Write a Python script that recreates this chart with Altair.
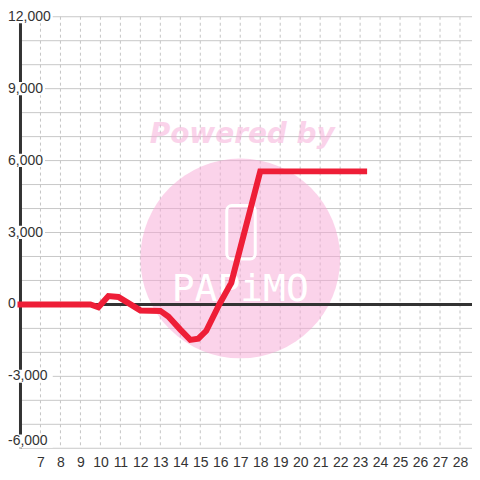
import altair as alt
import pandas as pd

# ---- data ----
x_vals = [6, 9.5, 9.9, 10.4, 10.9, 12.0, 13.0, 13.4, 14.0, 14.5, 14.9, 15.3, 15.95, 16.55, 18.0, 23.2]
y_vals = [0, 0, -120, 350, 310, -250, -270, -500, -1050, -1480, -1430, -1100, 0, 900, 5550, 5550]

y_label_values = [12000, 9000, 6000, 3000, 0, -3000, -6000]
y_label_texts = ["12,000", "9,000", "6,000", "3,000", "0", "-3,000", "-6,000"]
y_grid_values = list(range(-6000, 12001, 1000))
x_tick_values = list(range(7, 29))

RED = "#ee1e37"
DARK = "#333333"
PINK = "#f7a8d6"
FONT = "Liberation Sans"

line_df = pd.DataFrame({"x": x_vals, "y": y_vals})
ylab_df = pd.DataFrame({"v": y_label_values, "txt": y_label_texts})
ygrid_df = pd.DataFrame({"g": y_grid_values})
xgrid_df = pd.DataFrame({"t": x_tick_values})
zero_df = pd.DataFrame({"v": [0]})
one = pd.DataFrame({"a": [0]})

xs = alt.Scale(domain=[6, 28.6], nice=False, zero=False)
ys = alt.Scale(domain=[-6000, 12000], nice=False, zero=False)

x_axis = alt.Axis(values=x_tick_values, grid=False, domain=False, ticks=False, tickSize=0,
                  labelFontSize=14, labelColor=DARK, labelFont=FONT, labelPadding=7,
                  title=None, format="d", labelFlush=False)

# grid lines
hgrid = alt.Chart(ygrid_df).mark_rule(color="#c8c8c8", strokeWidth=1).encode(
    y=alt.Y("g:Q", scale=ys, axis=None))
vgrid = alt.Chart(xgrid_df).mark_rule(color="#c4c4c4", strokeWidth=1, strokeDash=[3, 3]).encode(
    x=alt.X("t:Q", scale=xs, axis=x_axis))

# watermark
circle = alt.Chart(one).mark_circle(color=PINK, opacity=0.5, size=40000).encode(
    x=alt.value(220), y=alt.value(242))
powered = alt.Chart(one).mark_text(text="Powered by", font="DejaVu Sans", fontSize=28,
                                   fontWeight="bold", fontStyle="italic", color=PINK,
                                   opacity=0.5, align="center", baseline="middle").encode(
    x=alt.value(222), y=alt.value(118))
phone = alt.Chart(one).mark_rect(fillOpacity=0, stroke="white", strokeWidth=3,
                                 cornerRadius=5).encode(
    x=alt.value(206.5), x2=alt.value(235), y=alt.value(189), y2=alt.value(242.5))
brand = alt.Chart(one).mark_text(text="PAPiMO", font="DejaVu Sans Mono", fontSize=38,
                                 color="white", align="center", baseline="middle").encode(
    x=alt.value(220), y=alt.value(274))

# y axis line and zero line
yline = alt.Chart(one).mark_rule(color=DARK, strokeWidth=3).encode(
    x=alt.value(0), y=alt.value(0), y2=alt.value(432))
zero = alt.Chart(zero_df).mark_rule(color=DARK, strokeWidth=3).encode(
    y=alt.Y("v:Q", scale=ys, axis=None))

# y labels on an opaque box that interrupts the axis line and grid
lab_base = alt.Chart(ylab_df).transform_calculate(
    ly="max(datum.v, -5710)",
    ytop="max(datum.v, -5710) + 280",
    ybot="max(datum.v, -5710) - 270",
    xl="6 - 14.5 / 20",
    xr="6 + (length(datum.txt) * 7.78 - (indexof(datum.txt, ',') >= 0 ? 3.89 : 0) - 10.5) / 20",
)
boxes = lab_base.mark_rect(color="white", opacity=1, clip=False).encode(
    x=alt.X("xl:Q", scale=xs, axis=x_axis), x2="xr:Q",
    y=alt.Y("ytop:Q", scale=ys, axis=None), y2="ybot:Q")
labels = lab_base.mark_text(align="left", baseline="middle", fontSize=14, font=FONT,
                            color=DARK).encode(
    x=alt.value(-12.5), y=alt.Y("ly:Q", scale=ys, axis=None), text="txt:N")

line = alt.Chart(line_df).mark_line(color=RED, strokeWidth=6, strokeCap="square",
                                    strokeJoin="miter", clip=False).encode(
    x=alt.X("x:Q", scale=xs, axis=x_axis),
    y=alt.Y("y:Q", scale=ys, axis=None),
)

chart = alt.layer(hgrid, vgrid, circle, powered, phone, brand, yline, zero, boxes, labels,
                  line).properties(
    width=452, height=432,
    autosize=alt.AutoSizeParams(type="none"),
    padding={"left": 12.5, "top": 8.5, "right": 0, "bottom": 24},
    background="white",
).configure_view(stroke=None)

chart.save("out.html", embed_options={"renderer": "svg", "actions": False})
